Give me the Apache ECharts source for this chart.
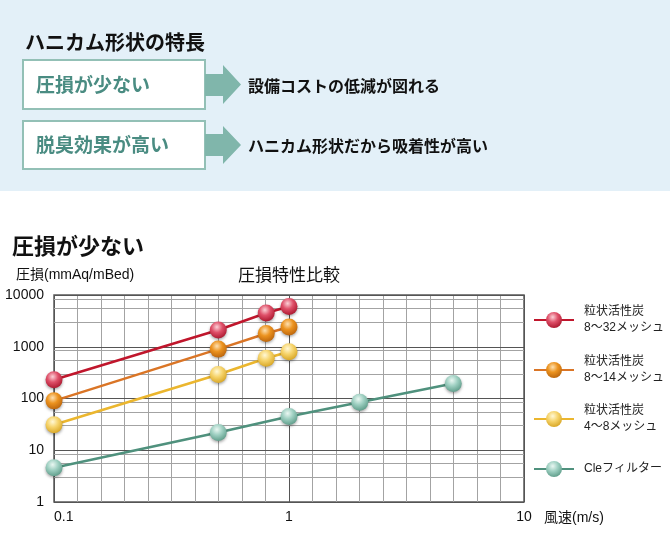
<!DOCTYPE html>
<html><head><meta charset="utf-8">
<script src="https://cdn.jsdelivr.net/npm/echarts@6/dist/echarts.min.js"></script>
<style>html,body{margin:0;padding:0;background:#fff}#c{width:670px;height:536px}</style>
</head><body><div id="c"></div>
<script>
const FONT = "'Liberation Sans', 'Noto Sans CJK JP', sans-serif";
const JP = "'Noto Sans CJK JP', sans-serif";

// ---- data ----
const granularSpeeds = [0.1, 0.5, 0.8, 1.0];
const mesh8to32 = [230, 2100, 4500, 6000];
const mesh8to14 = [90, 900, 1800, 2400];
const mesh4to8 = [31, 290, 600, 800];
const cleSpeeds = [0.1, 0.5, 1, 2, 5];
const cleFilter = [4.6, 22, 45, 85, 195];
const seriesNames = ['粒状活性炭\n8〜32メッシュ', '粒状活性炭\n8〜14メッシュ', '粒状活性炭\n4〜8メッシュ', 'Cleフィルター'];
const xRange = [0.1, 10];
const yRange = [1, 10000];
const yMinorGrid = [3, 5.5, 8.4, 30, 55, 84, 300, 550, 840, 3000, 5500, 8400];

function ball(hi, mid, dark) {
  return {type: 'radial', x: 0.42, y: 0.32, r: 0.72,
    colorStops: [{offset: 0, color: hi}, {offset: 0.45, color: mid}, {offset: 1, color: dark}]};
}
function mk(name, xs, ys, line, fill) {
  return {
    type: 'line', name: name, data: xs.map((x, i) => [x, ys[i]]),
    symbol: 'circle', symbolSize: 17, showAllSymbol: true,
    lineStyle: {color: line, width: 2.6},
    itemStyle: {color: fill, shadowBlur: 3, shadowColor: 'rgba(0,0,0,0.35)', shadowOffsetY: 1.5},
    emphasis: {disabled: true}, animation: false, z: 3
  };
}

const legendCenters = [320, 370, 419, 471];
const legends = seriesNames.map((n, i) => ({
  orient: 'vertical', left: 533, top: i < 3 ? legendCenters[i] - 24 : legendCenters[i] - 10,
  padding: 0, itemWidth: 40, itemHeight: 20, selectedMode: false,
  data: [{name: n}],
  textStyle: {fontSize: 12, lineHeight: 16, color: '#222', fontFamily: FONT,
    padding: i < 3 ? [16, 0, 0, 5] : [0, 0, 0, 5]}
}));

const chart = echarts.init(document.getElementById('c'), null, {renderer: 'canvas'});
chart.setOption({
  animation: false,
  textStyle: {fontFamily: FONT},
  grid: {left: 54, right: 146, top: 295, bottom: 34, show: true, borderColor: '#5a5a5a', borderWidth: 1.5, backgroundColor: 'transparent'},
  legend: legends,
  xAxis: [
    {type: 'log', logBase: 10, min: xRange[0], max: xRange[1], position: 'bottom', z: 1,
      axisLine: {show: false}, axisTick: {show: false},
      axisLabel: {fontSize: 14, color: '#111', margin: 8, alignMinLabel: 'left', formatter: v => String(+(+v).toPrecision(6))},
      splitLine: {show: true, lineStyle: {color: '#555', width: 1}},
      name: '風速(m/s)', nameLocation: 'end', nameGap: 20,
      nameTextStyle: {fontSize: 14, color: '#111', verticalAlign: 'top', padding: [9, 0, 0, 0]}},
    {type: 'value', min: 0, max: 20, interval: 1, position: 'top', z: 0,
      axisLine: {show: false}, axisTick: {show: false}, axisLabel: {show: false},
      splitLine: {show: true, lineStyle: {color: '#a3a3a3', width: 1}}}
  ],
  yAxis: {type: 'log', logBase: 10, min: yRange[0], max: yRange[1], z: 1,
    axisLine: {show: false}, axisTick: {show: false},
    axisLabel: {fontSize: 14, color: '#111', margin: 10, formatter: v => String(+(+v).toPrecision(6))},
    splitLine: {show: true, lineStyle: {color: '#555', width: 1}}},
  series: [
    mk(seriesNames[0], granularSpeeds, mesh8to32, '#c0162c', ball('#fbd0d6', '#df5069', '#a8142b')),
    mk(seriesNames[1], granularSpeeds, mesh8to14, '#da7526', ball('#fde0b0', '#ec931f', '#b8620b')),
    mk(seriesNames[2], granularSpeeds, mesh4to8, '#ebb62e', ball('#fff8d6', '#f6d46c', '#d6a320')),
    Object.assign(mk(seriesNames[3], cleSpeeds, cleFilter, '#4f917d', ball('#eaf7f2', '#9fd0c2', '#5b9a87')), {
      markLine: {silent: true, symbol: ['none', 'none'], label: {show: false}, z: 1, animation: false,
        lineStyle: {color: '#a3a3a3', width: 1, type: 'solid'}, emphasis: {disabled: true},
        data: yMinorGrid.map(v => ({yAxis: v}))}
    })
  ],
  graphic: [
    {type: 'rect', shape: {x: 0, y: 0, width: 670, height: 191}, style: {fill: '#e3f0f8'}, z: -10},
    {type: 'text', x: 25, y: 42, style: {text: 'ハニカム形状の特長', font: 'bold 20px ' + JP, fill: '#111', verticalAlign: 'middle'}},
    {type: 'rect', shape: {x: 23, y: 60, width: 182, height: 49}, style: {fill: '#fff', stroke: '#93c0b6', lineWidth: 2}},
    {type: 'text', x: 36, y: 85, style: {text: '圧損が少ない', font: 'bold 19px ' + JP, fill: '#4a8c82', verticalAlign: 'middle'}},
    {type: 'polygon', shape: {points: [[205, 74], [223, 74], [223, 65], [241, 84.5], [223, 104], [223, 96], [205, 96]]}, style: {fill: '#80b6ab'}},
    {type: 'text', x: 248, y: 86, style: {text: '設備コストの低減が図れる', font: 'bold 16px ' + JP, fill: '#111', verticalAlign: 'middle'}},
    {type: 'rect', shape: {x: 23, y: 121, width: 182, height: 48}, style: {fill: '#fff', stroke: '#93c0b6', lineWidth: 2}},
    {type: 'text', x: 36, y: 145, style: {text: '脱臭効果が高い', font: 'bold 19px ' + JP, fill: '#4a8c82', verticalAlign: 'middle'}},
    {type: 'polygon', shape: {points: [[205, 134], [223, 134], [223, 126], [241, 145], [223, 164], [223, 156], [205, 156]]}, style: {fill: '#80b6ab'}},
    {type: 'text', x: 248, y: 146, style: {text: 'ハニカム形状だから吸着性が高い', font: 'bold 16px ' + JP, fill: '#111', verticalAlign: 'middle'}},
    {type: 'text', x: 12, y: 246, style: {text: '圧損が少ない', font: 'bold 22px ' + JP, fill: '#111', verticalAlign: 'middle'}},
    {type: 'text', x: 16, y: 275, style: {text: '圧損(mmAq/mBed)', font: '14px ' + FONT, fill: '#111', verticalAlign: 'middle'}},
    {type: 'text', x: 289, y: 275, style: {text: '圧損特性比較', font: '17px ' + JP, fill: '#111', align: 'center', verticalAlign: 'middle'}}
  ]
});
</script>
</body></html>
